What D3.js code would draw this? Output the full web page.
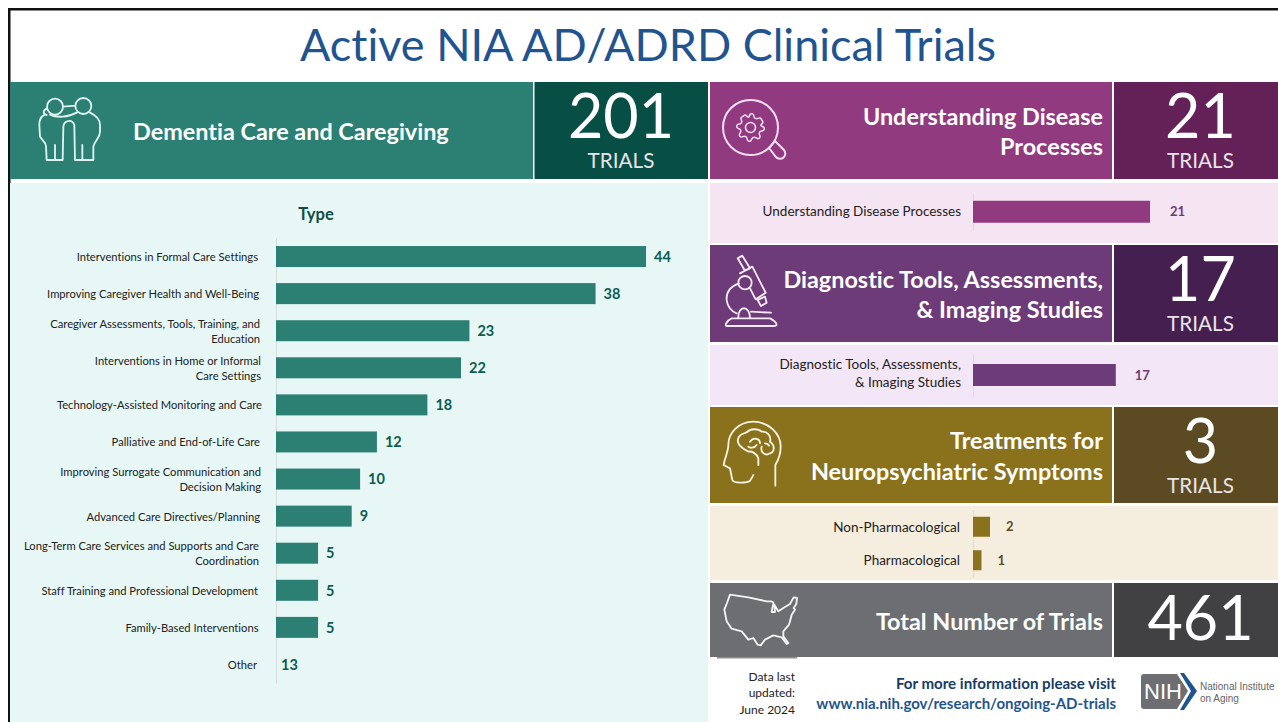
<!DOCTYPE html>
<html><head><meta charset="utf-8">
<script src="https://cdn.jsdelivr.net/npm/d3@7"></script>
<style>html,body{margin:0;padding:0;background:#fff;overflow:hidden}svg{display:block}text{font-family:Lato,Carlito,sans-serif;font-variant-ligatures:none}</style>
</head><body><div id="c"></div>
<script>
const careCategories=[["Interventions in Formal Care Settings"],["Improving Caregiver Health and Well-Being"],["Caregiver Assessments, Tools, Training, and","Education"],["Interventions in Home or Informal","Care Settings"],["Technology-Assisted Monitoring and Care"],["Palliative and End-of-Life Care"],["Improving Surrogate Communication and","Decision Making"],["Advanced Care Directives/Planning"],["Long-Term Care Services and Supports and Care","Coordination"],["Staff Training and Professional Development"],["Family-Based Interventions"],["Other"]];
const careValues=[44,38,23,22,18,12,10,9,5,5,5,13];
const careHasBar=[1,1,1,1,1,1,1,1,1,1,1,0];
const diseaseCategories=[["Understanding Disease Processes"]];
const diseaseValues=[21];
const diagnosticCategories=[["Diagnostic Tools, Assessments,","& Imaging Studies"]];
const diagnosticValues=[17];
const neuroCategories=[["Non-Pharmacological"],["Pharmacological"]];
const neuroValues=[2,1];

const W=1278,H=722;
const svg=d3.select("#c").append("svg").attr("width",W).attr("height",H);
const rect=(x,y,w,h,f)=>svg.append("rect").attr("x",x).attr("y",y).attr("width",w).attr("height",h).attr("fill",f);
const txt=(x,y,s,size,fill,anchor="middle",weight=400,family)=>{const t=svg.append("text").attr("x",x).attr("y",y).attr("font-size",size).attr("fill",fill).attr("text-anchor",anchor).attr("font-weight",weight).text(s);if(family)t.style("font-family",family);return t;};

// frame
rect(8,8,W-8,2.5,"#111");
rect(8,8,2.5,H-8,"#111");
txt(648,61,"Active NIA AD/ADRD Clinical Trials",45,"#1f5490");

// header blocks
function header(x0,x1,y0,y1,dx0,dx1,c,d,lines,tx,anchor,num,showTrials,cx,fs=23.4){
  rect(x0,y0,x1-x0,y1-y0,c); rect(dx0,y0,dx1-dx0,y1-y0,d);
  if(showTrials){
    txt(cx,y0+56,num,61,"#fff");
    txt(cx,y0+86,"TRIALS",20.7,"#e8e4e8");
  } else txt(cx,y0+57,num,61,"#fff");
  const cy=(y0+y1)/2;
  lines.forEach((l,i)=>txt(tx,cy+9.5+(i-(lines.length-1)/2)*30.5,l,fs,"#fff",anchor,700));
}
header(10,533,82,179,534.5,708,"#2b8073","#074f45",["Dementia Care and Caregiving"],133,"start","201",true,621);
header(710,1112,82,179,1114,1278,"#923a80","#642158",["Understanding Disease","Processes"],1103,"end","21",true,1200.5);
header(710,1112,245,342,1114,1278,"#6c3b78","#451f50",["Diagnostic Tools, Assessments,","& Imaging Studies"],1103,"end","17",true,1200.5);
header(710,1112,407,503,1114,1278,"#8a721d","#5c4b22",["Treatments for","Neuropsychiatric Symptoms"],1103,"end","3",true,1200.5);
header(710,1112,583,657,1114,1278,"#6d6e71","#414042",["Total Number of Trials"],1103,"end","461",false,1200.5);
rect(717,657,80,1.5,"#8d8e90");

// light panels
rect(10,183,698,H-183,"#e6f7f6");
rect(710,183,568,60,"#f5e4f2");
rect(710,345,568,60,"#f3e6f6");
rect(710,506,568,74,"#f5eede");
txt(316,220,"Type",16.5,"#0d4f45","middle",700);

// bar charts
function barChart({cats,vals,has,x0,unit,y0,y1,color,labelColor,valFs,valPad,labFs,labX,labDy=0,lineH,bandH}){
  const keys=cats.map(c=>c.join(" "));
  const y=d3.scaleBand().domain(keys).range([y0,y1]).paddingInner(0).paddingOuter(0);
  const x=d3.scaleLinear().domain([0,1]).range([x0,x0+unit]);
  const g=svg.append("g");
  const ax=g.append("g").attr("transform",`translate(${x0},0)`)
    .call(d3.axisLeft(y).tickSize(0).tickFormat(""));
  ax.select(".domain").attr("stroke","#d6dcdc").attr("stroke-width",1);
  const mid=k=>y(k)+y.bandwidth()/2;
  keys.forEach((k,i)=>{
    if(!has||has[i]) g.append("rect").attr("x",x(0)).attr("y",mid(k)-bandH/2).attr("width",x(vals[i])-x(0)).attr("height",bandH).attr("fill",color);
    const t=g.append("text").attr("text-anchor","end").attr("font-size",labFs).attr("fill","#222");
    const lx=Array.isArray(labX)?labX[i]:labX;
    cats[i].forEach((l,j)=>t.append("tspan").attr("x",lx).attr("y",mid(k)+labDy+labFs*0.36+(j-(cats[i].length-1)/2)*lineH).text(l));
    const vx=(!has||has[i])?x(vals[i])+valPad:x(0)+5;
    g.append("text").attr("x",vx).attr("y",mid(k)+valFs*0.36).attr("font-size",valFs).attr("font-weight",700).attr("fill",labelColor).text(vals[i]);
  });
}
barChart({cats:careCategories,vals:careValues,has:careHasBar,x0:276,unit:8.41,y0:238,y1:683,color:"#2b8073",labelColor:"#0d5c50",valFs:14.5,valPad:8,labFs:11.2,labX:[258,259,260,261,262,260,261,260,259,258,258.5,257],labDy:0.5,lineH:14.8,bandH:21});
barChart({cats:diseaseCategories,vals:diseaseValues,x0:973,unit:8.43,y0:193,y1:230.5,color:"#923a80",labelColor:"#6c3b78",valFs:13,valPad:20,labFs:13.5,labX:961,labDy:-0.5,lineH:19,bandH:22});
barChart({cats:diagnosticCategories,vals:diagnosticValues,x0:973,unit:8.4,y0:354,y1:396,color:"#6c3b78",labelColor:"#6c3b78",valFs:13,valPad:19,labFs:13.5,labX:961,labDy:-2,lineH:18,bandH:22});
barChart({cats:neuroCategories,vals:neuroValues,x0:973,unit:8.5,y0:510,y1:577,color:"#8a721d",labelColor:"#5c4b22",valFs:13,valPad:16,labFs:13.5,labX:960,lineH:19,bandH:20});

// icons, drawn in a local grid of thirds of a pixel
const icon=(x,y,d,c)=>svg.append("path").attr("transform",`translate(${x},${y}) scale(${1/3})`).attr("d",d).attr("fill","none").attr("stroke",c).attr("stroke-width",5.5).attr("stroke-linejoin","round").attr("stroke-linecap","round");
// people
icon(30,90,"M51,50 a24,24 0 1 0 48,0 a24,24 0 1 0 -48,0 M136,48 a24,24 0 1 0 48,0 a24,24 0 1 0 -48,0 M99,50 L136,47 M52,55 C38,60 38,72 50,75 M45,73 C32,80 27,90 28,105 L30,140 C35,150 47,155 48,168 L50,210 L98,210 L100,110 C102,92 125,85 133,105 L135,210 L190,210 L190,170 C195,150 210,145 210,125 L210,105 C210,85 195,75 180,68 M60,74 C80,84 115,82 140,68 M75,210 L75,165 M157,210 L157,165","#dff3ef");
// gear + magnifier
svg.append("circle").attr("cx",750.5).attr("cy",127.5).attr("r",27.5).attr("fill","none").attr("stroke","#f3dff0").attr("stroke-width",2);
svg.append("circle").attr("cx",750.5).attr("cy",127.5).attr("r",5).attr("fill","none").attr("stroke","#f3dff0").attr("stroke-width",1.6);
const gear=d3.range(0,96).map(i=>{const a=i/96*2*Math.PI,ph=(a*8/(2*Math.PI))%1,r=(ph<0.5)?13.5:10.5;return [750.5+r*Math.cos(a),127.5+r*Math.sin(a)];});
svg.append("path").attr("d",d3.line().curve(d3.curveCatmullRomClosed)(gear.filter((_,i)=>i%3==0))).attr("fill","none").attr("stroke","#f3dff0").attr("stroke-width",1.5);
svg.append("path").attr("d","M769,148 L776,157 A4.5,4.5 0 0 0 784,150 L775,141 Z").attr("fill","none").attr("stroke","#f3dff0").attr("stroke-width",2);
// microscope
icon(715,250,"M68,25 L82,17 L105,55 L90,62 Z M75,70 L112,50 L152,128 L122,148 L105,115 M128,150 L150,140 L155,158 L138,168 Z M70,98 a20,20 0 1 0 40,0 a20,20 0 1 0 -40,0 M72,100 C50,108 33,125 35,150 C37,170 50,185 65,190 M70,204 C68,165 105,165 105,204 M108,185 L168,188 M35,228 L178,228 C190,228 185,215 165,205 L50,205 C35,212 28,228 35,228 Z","#f5eaf5");
// head
icon(715,415,"M181,212 L181,150 C190,135 197,115 197,95 C197,55 160,20 115,20 C70,20 40,55 40,90 C40,110 30,125 26,150 L45,160 L52,195 C55,205 95,205 105,197 C110,190 113,185 115,180 M130,150 L130,130 C125,115 110,108 100,110 C80,100 60,85 72,65 C78,55 90,55 95,52 C105,40 130,40 140,50 C155,48 170,62 165,80 C180,90 180,110 165,115 C150,125 135,110 140,95 M105,80 C115,65 135,70 135,85 M100,95 C105,100 118,100 125,90 M150,85 C155,85 160,88 162,92","#f7f2e2");
// us map
icon(715,588,"M45,20 L100,28 L155,40 L168,40 C175,42 178,40 172,60 L170,72 L180,72 L178,50 L190,70 L205,60 L225,48 L236,28 L246,30 L244,48 L236,60 L240,65 L230,80 L225,100 L222,110 L205,130 L205,145 L220,165 L215,168 L200,148 L175,142 L150,155 L137,172 L128,170 L115,150 L100,155 L80,130 L50,122 L35,100 L28,65 L36,45 Z","#f4f4f4");

// footer
["Data last","updated:","June 2024"].forEach((s,i)=>txt(795,681+i*16.3,s,12,"#222","end"));
txt(1116,689,"For more information please visit",15.1,"#153d66","end",700);
txt(1116,709,"www.nia.nih.gov/research/ongoing-AD-trials",15,"#1f5490","end",700);
svg.append("path").attr("d","M1144,674 L1177,674 L1188,691 L1177,709 L1144,709 Q1141,709 1141,706 L1141,677 Q1141,674 1144,674 Z").attr("fill","#6d6e71");
svg.append("path").attr("d","M1180,673 L1184,673 L1197,691 L1184,710 L1180,710 L1191,691 Z").attr("fill","#1f5490");
txt(1144,699,"NIH",22,"#fff","start",400,"Liberation Sans");
txt(1200,690,"National Institute",10,"#666","start",400,"Liberation Sans");
txt(1200,702,"on Aging",10,"#666","start",400,"Liberation Sans");
</script></body></html>
